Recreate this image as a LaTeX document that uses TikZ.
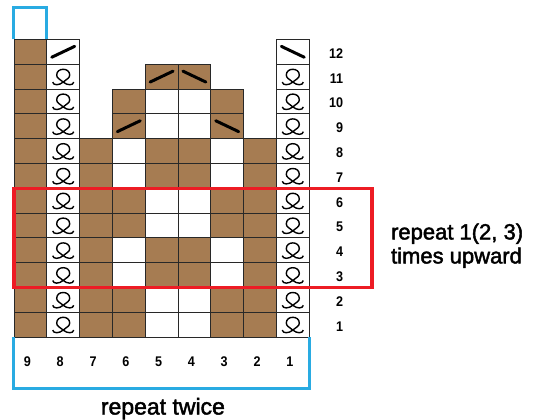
\documentclass[tikz,border=0pt]{standalone}
\usepackage{xcolor}
\usepackage{fontspec}
\setmainfont{Liberation Sans}
\newfontfamily\numfont{Liberation Sans}[FakeStretch=0.9]
\newfontfamily\notefont{Liberation Sans}[FakeBold=2]
\usepackage{tikz}
\usetikzlibrary{positioning}

\definecolor{knitbrown}{RGB}{166,124,82}
\definecolor{gridline}{RGB}{40,40,40}
\definecolor{repblue}{RGB}{41,171,226}
\definecolor{repred}{RGB}{237,28,36}

\begin{document}
\begin{tikzpicture}[x=32.8pt, y=24.8pt]
\tikzstyle{cell} = [draw=gridline, line width=0.9pt]
\tikzstyle{slant} = [line width=3pt, line cap=round]
\tikzstyle{loopline} = [line width=1.4pt]
\tikzstyle{rownum} = [anchor=east, inner sep=0pt, font=\numfont\bfseries\fontsize{14}{14}\selectfont]
\tikzstyle{colnum} = [inner sep=0pt, font=\numfont\bfseries\fontsize{14}{14}\selectfont]
\tikzstyle{note} = [inner sep=0pt, font=\notefont\fontsize{22}{24}\selectfont]
\tikzstyle{repbox} = [draw=repblue, line width=3pt]
\tikzstyle{repzone} = [draw=repred, line width=3.4pt]

% Stitch symbols, one unit cell each
\tikzset{
  cellB/.pic={\draw[cell, fill=knitbrown] (0,0) rectangle (1,1);},
  cellW/.pic={\draw[cell, fill=white] (0,0) rectangle (1,1);},
  cellL/.pic={\draw[cell, fill=white] (0,0) rectangle (1,1);
    \draw[loopline, shift={(0.5,0.48)}] (-10.5pt,-5pt) .. controls (-10pt,-8.5pt) and (-4pt,-8.5pt) .. (0pt,-5pt)
      .. controls (3.5pt,-2pt) and (6.5pt,-1pt) .. (6.5pt,2pt)
      .. controls (6.5pt,5.8pt) and (3.5pt,7.8pt) .. (0pt,7.8pt)
      .. controls (-3.5pt,7.8pt) and (-6.5pt,5.8pt) .. (-6.5pt,2pt)
      .. controls (-6.5pt,-1pt) and (-3.5pt,-2pt) .. (0pt,-5pt)
      .. controls (4pt,-8.5pt) and (10pt,-8.5pt) .. (10.5pt,-5pt);},
  cellr/.pic={\draw[cell, fill=knitbrown] (0,0) rectangle (1,1);
    \draw[slant] (0.15,0.28) -- (0.85,0.72);},
  cellf/.pic={\draw[cell, fill=knitbrown] (0,0) rectangle (1,1);
    \draw[slant] (0.15,0.72) -- (0.85,0.28);},
  cella/.pic={\draw[cell, fill=white] (0,0) rectangle (1,1);
    \draw[slant] (0.15,0.28) -- (0.85,0.72);},
  cellb/.pic={\draw[cell, fill=white] (0,0) rectangle (1,1);
    \draw[slant] (0.15,0.72) -- (0.85,0.28);},
  celln/.pic={}
}

\useasboundingbox (-0.4268,-3.3065) rectangle (15.884,13.589);

% Chart cells (columns 9 to 1)
\foreach \r/\cells in {12/{B,a,n,n,n,n,n,n,b}, 11/{B,L,n,n,r,f,n,n,L},
    10/{B,L,n,B,W,W,B,n,L}, 9/{B,L,n,r,W,W,f,n,L},
    8/{B,L,B,W,B,B,W,B,L}, 7/{B,L,B,W,B,B,W,B,L},
    6/{B,L,B,B,W,W,B,B,L}, 5/{B,L,B,B,W,W,B,B,L},
    4/{B,L,B,W,B,B,W,B,L}, 3/{B,L,B,W,B,B,W,B,L},
    2/{B,L,B,B,W,W,B,B,L}, 1/{B,L,B,B,W,W,B,B,L}}
  \foreach \c [count=\i from 0] in \cells
    \pic at (\i,\r-1) {cell\c};

% Row and column numbers
\foreach \r in {1,...,12}
  \node (row\r) [rownum] at (10.04,\r-0.57) {\r};
\foreach \c [count=\i from 0] in {9,...,1}
  \node (col\c) [colnum] at (\i+0.41,-1.01) {\c};

% Repeat marks
\draw[repbox] (0,12) -- (0,13.27) -- (1,13.27) -- (1,12);
\draw[repbox] (0,0) -- (0,-2.06) -- (9,-2.06) -- (9,0);
\draw[repzone] (0,2) rectangle (10.91,6);

\node (reprows) [note, anchor=west, align=left] at (11.49,3.68) {repeat 1(2, 3)\\times upward};
\node (repcols) [note, anchor=base, font=\notefont\fontsize{23}{24}\selectfont] at (4.54,-3.125) {repeat twice};
\end{tikzpicture}
\end{document}
